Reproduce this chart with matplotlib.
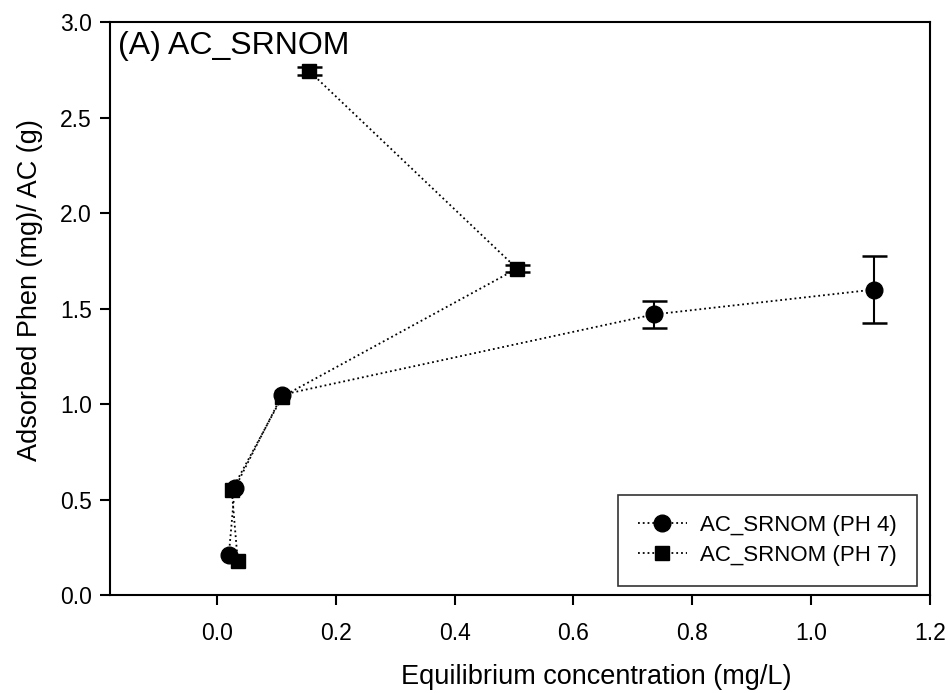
import numpy as np
import matplotlib
matplotlib.use("Agg")
import matplotlib.pyplot as plt

plt.rcParams['font.family'] = ['Liberation Sans', 'DejaVu Sans']

# pH 4 series
x_ph4 = [0.020, 0.030, 0.110, 0.735, 1.105]
y_ph4 = [0.21, 0.56, 1.05, 1.47, 1.60]
err_ph4 = [0.0, 0.0, 0.0, 0.07, 0.175]

# pH 7 series
x_ph7 = [0.035, 0.025, 0.110, 0.505, 0.155]
y_ph7 = [0.18, 0.55, 1.04, 1.71, 2.745]
err_ph7 = [0.0, 0.0, 0.0, 0.02, 0.02]

xticks = [0.0, 0.2, 0.4, 0.6, 0.8, 1.0, 1.2]
yticks = [0.0, 0.5, 1.0, 1.5, 2.0, 2.5, 3.0]

fig = plt.figure(figsize=(9.48, 6.93), dpi=100)
ax = fig.add_axes([0.116, 0.141, 0.865, 0.827])

for xs, ys, es, mk, ms, lab in [(x_ph4, y_ph4, err_ph4, 'o', 12, 'AC_SRNOM (PH 4)'),
                                (x_ph7, y_ph7, err_ph7, 's', 10, 'AC_SRNOM (PH 7)')]:
    ax.plot(xs, ys, marker=mk, ms=ms, color='black', ls=':', lw=1.3, label=lab)
    xs, ys, es = np.array(xs), np.array(ys), np.array(es)
    m = es > 0
    ax.errorbar(xs[m], ys[m], yerr=es[m], fmt='none', ecolor='black',
                capsize=9, elinewidth=1.5, capthick=1.8)

ax.set_xlim(-0.18, 1.2)
ax.set_ylim(0, 3.0)
ax.set_xticks(xticks)
ax.set_yticks(yticks)
ax.set_xticklabels([f'{v:.1f}' for v in xticks])
ax.set_yticklabels([f'{v:.1f}' for v in yticks])
ax.tick_params(direction='out', length=7, width=1.5, labelsize=16.5)
ax.tick_params(axis='x', pad=12)
ax.tick_params(axis='y', pad=6)

for s in ax.spines.values():
    s.set_linewidth(1.5)

ax.set_xlabel('Equilibrium concentration (mg/L)', fontsize=19.5)
ax.xaxis.set_label_coords(0.593, -0.12)
ax.set_ylabel('Adsorbed Phen (mg)/ AC (g)', fontsize=19.5)
ax.yaxis.set_label_coords(-0.082, 0.532)
ax.text(0.01, 0.985, '(A) AC_SRNOM', transform=ax.transAxes, fontsize=23,
        va='top', ha='left')

leg = ax.legend(loc='lower right', fontsize=16, frameon=True, fancybox=False,
                edgecolor='black', handlelength=2.2, handletextpad=0.6,
                borderpad=0.9, labelspacing=0.4, borderaxespad=0,
                bbox_to_anchor=(0.984, 0.016))
leg.get_frame().set_linewidth(1.2)

fig.savefig('out.png', dpi=100)
